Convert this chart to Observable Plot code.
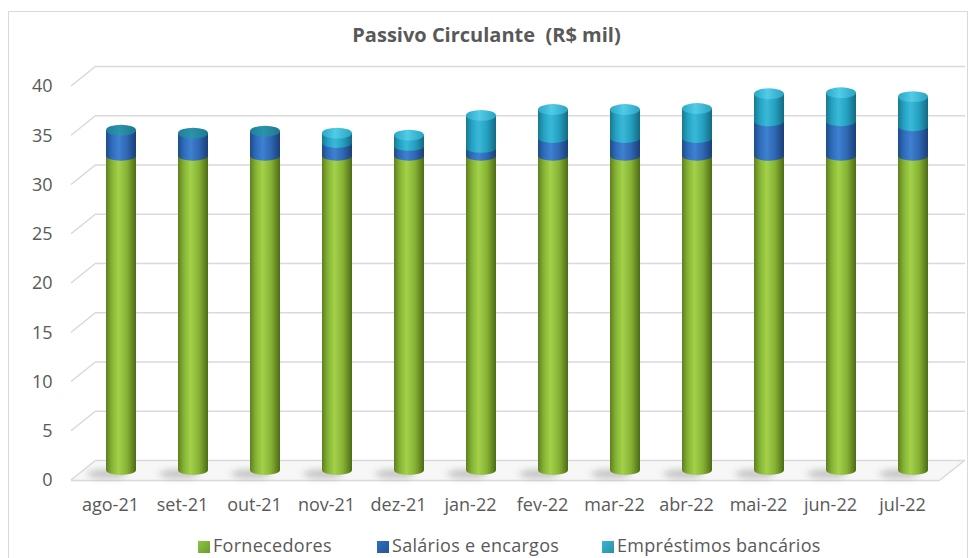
<!DOCTYPE html>
<html>
<head>
<meta charset="utf-8">
<script src="https://cdn.jsdelivr.net/npm/d3@7"></script>
<script src="https://cdn.jsdelivr.net/npm/@observablehq/plot@0.6"></script>
<style>
  body { margin: 0; background: #fff; }
  #wrap { position: relative; width: 973px; height: 558px; overflow: hidden; font-family: "Open Sans", sans-serif; color: #595959; }
  #border { position: absolute; left: 8px; top: 11px; width: 960px; height: 560px; border: 1.5px solid #d9d9d9; box-sizing: border-box; }
  #title { position: absolute; left: 0; width: 973px; top: 20px; text-align: center; font-weight: bold; font-size: 20px; line-height: 30px; }
  #chart { position: absolute; left: 0; top: 55px; }
  .leg { position: absolute; top: 532px; font-size: 18px; letter-spacing: 0.3px; line-height: 26px; white-space: nowrap; }
  .leg i { display: inline-block; width: 12px; height: 12px; margin-right: 3px; vertical-align: -1px; }
</style>
</head>
<body>
<div id="wrap">
  <div id="border"></div>
  <div id="title">Passivo Circulante&nbsp; (R$ mil)</div>
  <div id="chart"></div>
  <div id="legend"></div>
</div>
<script>
const months = ["ago-21","set-21","out-21","nov-21","dez-21","jan-22","fev-22","mar-22","abr-22","mai-22","jun-22","jul-22"];
const seriesNames = ["Fornecedores","Salários e encargos","Empréstimos bancários"];
const fornecedores = [31.9,31.9,31.9,31.9,31.9,31.9,31.9,31.9,31.9,31.9,31.9,31.9];
const salarios     = [2.6,2.3,2.5,1.3,1.0,0.8,1.8,1.8,1.8,3.5,3.5,3.0];
const emprestimos  = [0,0,0,1.0,1.1,3.3,2.9,2.9,3.0,2.8,2.9,3.0];
const yTicks = [0,5,10,15,20,25,30,35,40];

const seriesValues = [fornecedores, salarios, emprestimos];
const grads = ["url(#gGreen)","url(#gBlue)","url(#gCyan)"];
const legendColors = ["#8cc63f","#2e6fc0","#3ab5d5"];

// stacked segments
const segs = [];
const totals = [];
months.forEach((m, i) => {
  let cum = 0;
  let top = 0;
  seriesValues.forEach((vals, k) => {
    const v = vals[i];
    if (v > 0) {
      segs.push({month: m, k, y1: cum, y2: cum + v});
      cum += v;
      top = k;
    }
  });
  totals.push({month: m, total: cum, top});
});

const barOpts = {x: "month", insetLeft: 21, insetRight: 21, dx: 11, dy: -10};
const marks = [
  Plot.ruleY(yTicks, {y: d => d, dx: 25, dy: -20, stroke: "#d9d9d9", strokeWidth: 1.6}),
  Plot.ruleY([0], {y: d => d, stroke: "#d9d9d9", strokeWidth: 1.6}),
  Plot.barY(totals, {x: "month", y1: -0.45, y2: 0.45, insetLeft: 2, insetRight: 30, dx: 11, dy: -6, rx: 30, ry: 30, fill: "#9a9a9a", fillOpacity: 0.55, className: "shadow"})
];
seriesValues.forEach((vals, k) => {
  const data = segs.filter(s => s.k === k);
  marks.push(Plot.barY(data, {...barOpts, y1: "y1", y2: "y2", fill: grads[k]}));
  marks.push(Plot.barY(data, {...barOpts, y1: d => d.y1 - 0.5, y2: d => d.y1 + 0.5, rx: 20, ry: 20, fill: grads[k]}));
});
marks.push(Plot.barY(totals.filter(t => t.top === 2), {...barOpts, y1: d => d.total - 0.55, y2: d => d.total + 0.55, rx: 20, ry: 20, fill: "url(#gCapCyan)"}));
marks.push(Plot.barY(totals.filter(t => t.top !== 2), {...barOpts, y1: d => d.total - 0.55, y2: d => d.total + 0.55, rx: 20, ry: 20, fill: "url(#gCapTeal)"}));

const chart = Plot.plot({
  width: 973,
  height: 465,
  marginLeft: 71,
  marginRight: 33,
  marginTop: 31,
  marginBottom: 40,
  style: {fontSize: "18px", fontFamily: "Open Sans, sans-serif", color: "#595959", background: "transparent", overflow: "visible"},
  x: {domain: months, padding: 0, tickSize: 0, tickPadding: 18, label: null},
  y: {domain: [0, 40], ticks: yTicks, tickSize: 0, tickPadding: 19, label: null},
  marks
});

// gradients and decorative 3D floor using the plot's own y scale
const svg = d3.select(chart);
const defs = svg.insert("defs", ":first-child");
function hgrad(id, stops) {
  const g = defs.append("linearGradient").attr("id", id).attr("x1", "0").attr("x2", "1").attr("y1", "0").attr("y2", "0");
  stops.forEach(([o, c]) => g.append("stop").attr("offset", o).attr("stop-color", c));
}
hgrad("gGreen", [[0, "#5e7f1e"], [0.2, "#86b536"], [0.42, "#a3d14a"], [0.7, "#86b334"], [1, "#4c6a14"]]);
hgrad("gBlue",  [[0, "#1d4c8a"], [0.2, "#2f6cbb"], [0.42, "#3f80d0"], [0.7, "#2e67b2"], [1, "#1a3f78"]]);
hgrad("gCyan",  [[0, "#177891"], [0.2, "#26a3c4"], [0.42, "#39b9d7"], [0.7, "#25a0c0"], [1, "#146a82"]]);
hgrad("gCapCyan", [[0, "#2aa8c8"], [0.45, "#52cbe6"], [1, "#2aa3c2"]]);
hgrad("gCapTeal", [[0, "#1f7f97"], [0.45, "#2b93ad"], [1, "#1c7890"]]);
const blur = defs.append("filter").attr("id", "blurShadow").attr("x", "-50%").attr("y", "-100%").attr("width", "200%").attr("height", "300%");
blur.append("feGaussianBlur").attr("stdDeviation", "3");
svg.selectAll(".shadow").attr("filter", "url(#blurShadow)");

const ys = chart.scale("y");
const xs = chart.scale("x");
const yf = d3.scaleLinear(ys.domain, ys.range);
const x0 = Math.min(...xs.range), x1 = Math.max(...xs.range);
const deco = svg.insert("g", "defs + *").attr("stroke", "#d9d9d9").attr("stroke-width", 1.6).attr("fill", "none");
yTicks.forEach(t => {
  deco.append("line").attr("x1", x0).attr("y1", yf(t)).attr("x2", x0 + 25).attr("y2", yf(t) - 20);
});
deco.append("line").attr("x1", x1).attr("y1", yf(0)).attr("x2", x1 + 25).attr("y2", yf(0) - 20);
deco.insert("polygon", ":first-child")
  .attr("points", `${x0},${yf(0)} ${x1},${yf(0)} ${x1 + 25},${yf(0) - 20} ${x0 + 25},${yf(0) - 20}`)
  .attr("fill", "#f7f7f7").attr("stroke", "none");

document.getElementById("chart").appendChild(chart);

// legend
const legendX = [198, 377, 602];
const leg = document.getElementById("legend");
seriesNames.forEach((name, k) => {
  const d = document.createElement("div");
  d.className = "leg";
  d.style.left = legendX[k] + "px";
  d.innerHTML = `<i style="background:linear-gradient(135deg, ${legendColors[k]}, ${d3.color(legendColors[k]).darker(0.7)})"></i>${name}`;
  leg.appendChild(d);
});
</script>
</body>
</html>
